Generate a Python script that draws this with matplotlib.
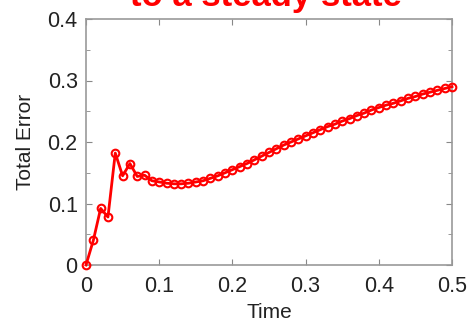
import matplotlib
matplotlib.use("Agg")
import matplotlib.pyplot as plt
import numpy as np

plt.rcParams['font.family'] = ['Liberation Sans', 'DejaVu Sans']

time = np.round(np.arange(0, 0.501, 0.01), 2)
total_error = [0.000, 0.040, 0.092, 0.078, 0.182, 0.145, 0.165, 0.144, 0.146, 0.137,
               0.135, 0.133, 0.132, 0.132, 0.133, 0.135, 0.137, 0.141, 0.145, 0.150,
               0.155, 0.160, 0.165, 0.171, 0.177, 0.183, 0.189, 0.195, 0.200, 0.205,
               0.210, 0.215, 0.220, 0.225, 0.229, 0.234, 0.238, 0.243, 0.247, 0.252,
               0.256, 0.260, 0.263, 0.267, 0.271, 0.274, 0.278, 0.281, 0.284, 0.287,
               0.290]
x_ticks = [0, 0.1, 0.2, 0.3, 0.4, 0.5]
x_tick_labels = ['0', '0.1', '0.2', '0.3', '0.4', '0.5']
y_ticks = [0, 0.1, 0.2, 0.3, 0.4]
y_tick_labels = ['0', '0.1', '0.2', '0.3', '0.4']

fig = plt.figure(figsize=(4.74, 3.21), dpi=100)
ax = fig.add_axes([86/474, 1 - 265/321, (452-86)/474, (265-19)/321])

ax.plot(time, total_error, color='#ff0000', linewidth=2, marker='o',
        markersize=5.5, markerfacecolor='none', markeredgecolor='#ff0000',
        markeredgewidth=1.5, clip_on=False, zorder=3)

ax.set_xlim(0, 0.5)
ax.set_ylim(0, 0.4)
ax.set_xticks(x_ticks)
ax.set_xticklabels(x_tick_labels)
ax.set_yticks(y_ticks)
ax.set_yticklabels(y_tick_labels)
ax.set_yticks(np.arange(0.05, 0.4, 0.1), minor=True)
ax.tick_params(which='both', direction='in', top=True, right=True,
               color='#888888', labelsize=15.5, labelcolor='#222222')
ax.tick_params(axis='x', which='major', length=4, pad=8)
ax.tick_params(axis='y', which='major', length=4, pad=6)
ax.tick_params(which='minor', length=3)
for s in ax.spines.values():
    s.set_color('#999999')
    s.set_linewidth(1.2)

ax.set_xlabel('Time', fontsize=15, color='#222222', labelpad=4)
ax.set_ylabel('Total Error', fontsize=15, color='#222222', labelpad=9)

fig.text(0.56, 1 - 6/321, 'to a steady state', color='#ff0000', fontsize=25,
         fontweight='bold', ha='center', va='baseline')

fig.savefig('out.png', dpi=100)
